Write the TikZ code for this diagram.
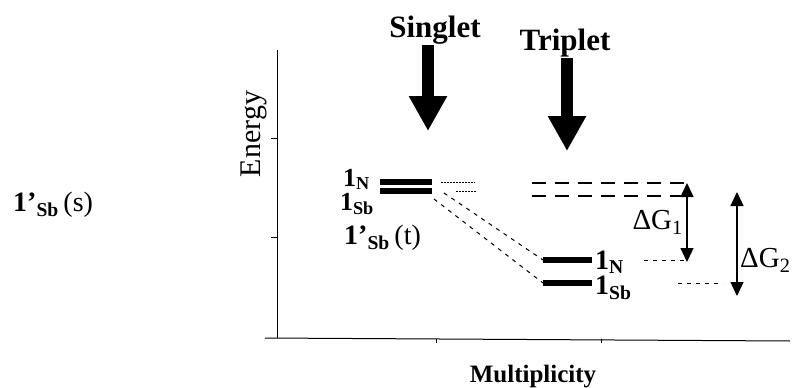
\documentclass[tikz,border=0pt]{standalone}
\usepackage{fontspec}
\setmainfont{Liberation Serif}
\usetikzlibrary{arrows.meta}

\tikzset{
    level/.style={line width=6.5pt},
    faint/.style={line width=1pt, dash pattern=on 1.5pt off 1.5pt},
    guide/.style={line width=1pt, dash pattern=on 4pt off 5pt},
    upper/.style={line width=1.2pt, dash pattern=on 14pt off 9pt},
    spin/.style={line width=12pt, -{Triangle[width=36pt,length=35pt]}},
    gap/.style={line width=1.4pt, {Triangle[width=13pt,length=14pt]}-{Triangle[width=13pt,length=14pt]}},
    lbl/.style={font=\fontsize{28}{30}\selectfont\bfseries, inner sep=1pt},
    tight/.style={font=\fontsize{26}{28}\selectfont\bfseries, inner sep=0pt},
    head/.style={font=\fontsize{31}{34}\selectfont\bfseries, inner sep=1pt}
}

\begin{document}
\begin{tikzpicture}[x=1pt, y=-1pt]
    \useasboundingbox (0,0) rectangle (793,388);

    % Axes
    \draw[line width=1pt] (277,50) -- (277,338);
    \draw[line width=1pt] (265,338) -- (790,341);
    \foreach \y in {138,237}
        \draw[line width=1pt] (271,\y) -- (277,\y);
    \foreach \x in {436,601}
        \draw[line width=1pt] (\x,339) -- (\x,343);
    \node[rotate=90, font=\fontsize{30}{32}\selectfont] (energy) at (254,134) {Energy};
    \node[font=\fontsize{25}{28}\selectfont\bfseries] (mult) at (533,377) {Multiplicity};

    % Spin labels and arrows
    \node[head] (singlet) at (435,30) {Singlet};
    \node[head] (triplet) at (565,43) {Triplet};
    \coordinate (sTip) at (428,131);
    \coordinate (tTip) at (567,151);
    \draw[spin] (singlet.south -| sTip) -- (sTip);
    \draw[spin] (triplet.south -| tTip) -- (tTip);

    % Singlet levels
    \coordinate (sNa) at (380,182);
    \coordinate (sNb) at (432,182);
    \coordinate (sSa) at (380,191);
    \coordinate (sSb) at (432,191);
    \draw[level] (sNa) -- (sNb);
    \draw[level] (sSa) -- (sSb);
    \node[tight, anchor=base east] (lsN) at (370,186) {1\textsubscript{N}};
    \node[tight, anchor=base east] (lsS) at (374,210) {1\textsubscript{Sb}};
    \node[lbl, anchor=west] (lsT) at (343,238) {1'\textsubscript{Sb}\,\mdseries(t)};
    \draw[faint] (sNb) ++(9,0) -- ++(34,0);
    \draw[faint] (sSb) ++(24,0) -- ++(20,0);

    % Triplet levels
    \coordinate (tNa) at (543,260);
    \coordinate (tNb) at (592,260);
    \coordinate (tSa) at (543,283);
    \coordinate (tSb) at (592,283);
    \draw[level] (tNa) -- (tNb);
    \draw[level] (tSa) -- (tSb);
    \node[lbl, anchor=west] (ltN) at (594,262) {1\textsubscript{N}};
    \node[lbl, anchor=west] (ltS) at (594,288) {1\textsubscript{Sb}};
    \draw[guide] (sSb) ++(12,2) -- (tNa);
    \draw[guide] (sSb) ++(2,8) -- (tSa);

    % Singlet energies carried over
    \draw[upper] (532,183) -- (690,183);
    \draw[upper] (532,196) -- (690,196);
    \draw[guide] (tNb) ++(52,0) -- ++(45,0);
    \draw[guide] (tSb) ++(86,0) -- ++(45,0);

    % Gaps
    \coordinate (g1top) at (687,183);
    \coordinate (g1bot) at (687,262);
    \coordinate (g2top) at (737,192);
    \coordinate (g2bot) at (737,296);
    \draw[gap] (g1top) -- (g1bot);
    \draw[gap] (g2top) -- (g2bot);
    \node[font=\fontsize{29}{32}\selectfont, anchor=east, inner sep=1pt] (dg1) at (684,222) {ΔG\textsubscript{1}};
    \node[font=\fontsize{29}{32}\selectfont, anchor=west, inner sep=1pt] (dg2) at (739,260) {ΔG\textsubscript{2}};

    % Singlet reference state
    \node[lbl, anchor=west] (lref) at (12,205) {1'\textsubscript{Sb}\,\mdseries(s)};
\end{tikzpicture}
\end{document}
